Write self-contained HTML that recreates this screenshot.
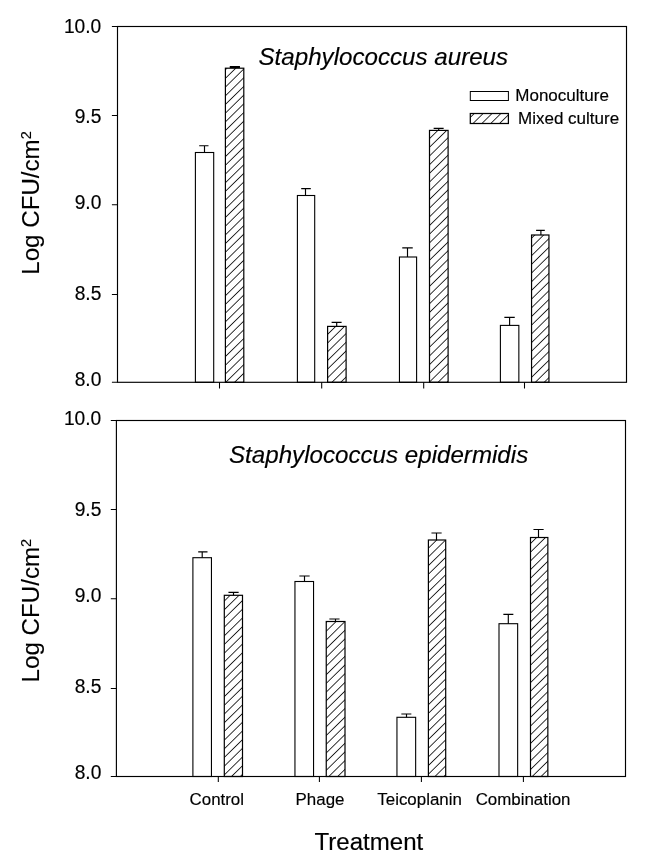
<!DOCTYPE html>
<html lang="en">
<head>
<meta charset="utf-8">
<title>Log CFU/cm2 by Treatment</title>
<style>
html,body{margin:0;padding:0;background:#fff}
body{width:650px;height:867px;overflow:hidden}
svg{display:block}
text{stroke:#000;stroke-width:.16px;stroke-linejoin:round}
text.v{stroke-width:.12px}
</style>
</head>
<body>
<svg width="650" height="867" viewBox="0 0 650 867" font-family='"Liberation Sans", Arial, Helvetica, sans-serif' fill="#000" stroke="none">
<defs><pattern id="hatch" width="6.2" height="6.2" patternUnits="userSpaceOnUse" patternTransform="rotate(-44.5)"><rect width="6.2" height="6.2" fill="#fff"/><line x1="0" y1="3.1" x2="6.2" y2="3.1" stroke="#000" stroke-width="0.8"/></pattern><pattern id="hatchL" width="6.2" height="6.2" patternUnits="userSpaceOnUse" patternTransform="translate(1.6 0) rotate(-44.5)"><rect width="6.2" height="6.2" fill="#fff"/><line x1="0" y1="3.1" x2="6.2" y2="3.1" stroke="#000" stroke-width="0.8"/></pattern></defs>
<rect width="650" height="867" fill="#fff"/>
<g>
<rect x="195.4" y="152.5" width="18.3" height="229.8" fill="#fff" stroke="#000" stroke-width="1.1"/>
<path d="M204.5 152.5V145.7M199.2 145.7H208.5" fill="none" stroke="#000" stroke-width="1.15"/>
<rect x="225.4" y="68.2" width="18.4" height="314.1" fill="url(#hatch)" stroke="#000" stroke-width="1.2"/>
<path d="M234.8 68.2V67M229.75 67H239.95" fill="none" stroke="#000" stroke-width="2.0"/>
<rect x="297.4" y="195.5" width="17.3" height="186.8" fill="#fff" stroke="#000" stroke-width="1.1"/>
<path d="M305.5 195.5V188.6M301.2 188.6H310.8" fill="none" stroke="#000" stroke-width="1.15"/>
<rect x="327.6" y="326.4" width="18.5" height="55.9" fill="url(#hatch)" stroke="#000" stroke-width="1.2"/>
<path d="M336.7 326.4V322.3M331.6 322.3H341.6" fill="none" stroke="#000" stroke-width="1.15"/>
<rect x="399.45" y="257" width="17.15" height="125.3" fill="#fff" stroke="#000" stroke-width="1.1"/>
<path d="M407.5 257V247.8M402.25 247.8H412.75" fill="none" stroke="#000" stroke-width="1.15"/>
<rect x="429.5" y="130.4" width="18.6" height="251.9" fill="url(#hatch)" stroke="#000" stroke-width="1.2"/>
<path d="M438.7 130.4V128.3M433.65 128.3H443.65" fill="none" stroke="#000" stroke-width="1.15"/>
<rect x="500.4" y="325.4" width="18.45" height="56.9" fill="#fff" stroke="#000" stroke-width="1.1"/>
<path d="M509.6 325.4V317.3M504.35 317.3H514.75" fill="none" stroke="#000" stroke-width="1.15"/>
<rect x="531.55" y="235" width="17.4" height="147.3" fill="url(#hatch)" stroke="#000" stroke-width="1.2"/>
<path d="M540.9 235V230.4M536.1 230.4H544.8" fill="none" stroke="#000" stroke-width="1.15"/>
<rect x="117.5" y="26.5" width="509" height="355.8" fill="none" stroke="#000" stroke-width="1.15"/>
<path d="M111.9 26.5H117.5M111.9 115.5H117.5M111.9 204.8H117.5M111.9 294.4H117.5M111.9 382.3H117.5M219.5 382.3V388.5M321.7 382.3V388.5M423.7 382.3V388.5M524.5 382.3V388.5" fill="none" stroke="#000" stroke-width="1.05"/>
<text transform="translate(101.3 32.9) scale(1 1.02)" font-size="19.2" text-anchor="end">10.0</text>
<text transform="translate(101.3 123.35) scale(1 1.02)" font-size="19.2" text-anchor="end">9.5</text>
<text transform="translate(101.3 209.25) scale(1 1.02)" font-size="19.2" text-anchor="end">9.0</text>
<text transform="translate(101.3 300.35) scale(1 1.02)" font-size="19.2" text-anchor="end">8.5</text>
<text transform="translate(101.3 386.35) scale(1 1.02)" font-size="19.2" text-anchor="end">8.0</text>
</g>
<g>
<rect x="192.9" y="557.7" width="18.55" height="218.8" fill="#fff" stroke="#000" stroke-width="1.1"/>
<path d="M202.2 557.7V551.8M198.2 551.8H207.5" fill="none" stroke="#000" stroke-width="1.15"/>
<rect x="224.3" y="595.3" width="18.2" height="181.2" fill="url(#hatch)" stroke="#000" stroke-width="1.2"/>
<path d="M233.5 595.3V592.3M228.45 592.3H238.65" fill="none" stroke="#000" stroke-width="1.15"/>
<rect x="294.95" y="581.5" width="18.6" height="195" fill="#fff" stroke="#000" stroke-width="1.1"/>
<path d="M304.5 581.5V576M299.35 576H309.65" fill="none" stroke="#000" stroke-width="1.15"/>
<rect x="326.25" y="621.5" width="18.75" height="155" fill="url(#hatch)" stroke="#000" stroke-width="1.2"/>
<path d="M335.5 621.5V619M329.35 619H339.55" fill="none" stroke="#000" stroke-width="1.15"/>
<rect x="396.95" y="717.3" width="18.7" height="59.2" fill="#fff" stroke="#000" stroke-width="1.1"/>
<path d="M406.5 717.3V714M401.35 714H411.35" fill="none" stroke="#000" stroke-width="1.15"/>
<rect x="428.4" y="540" width="17.3" height="236.5" fill="url(#hatch)" stroke="#000" stroke-width="1.2"/>
<path d="M436.5 540V533M431.45 533H441.65" fill="none" stroke="#000" stroke-width="1.15"/>
<rect x="499" y="623.7" width="18.65" height="152.8" fill="#fff" stroke="#000" stroke-width="1.1"/>
<path d="M508.3 623.7V614.3M503.35 614.3H513.35" fill="none" stroke="#000" stroke-width="1.15"/>
<rect x="530.5" y="537.5" width="17.35" height="239" fill="url(#hatch)" stroke="#000" stroke-width="1.2"/>
<path d="M538.5 537.5V529.5M533.45 529.5H543.65" fill="none" stroke="#000" stroke-width="1.15"/>
<rect x="116.4" y="420.5" width="509.1" height="356" fill="none" stroke="#000" stroke-width="1.15"/>
<path d="M110.8 420.5H116.4M110.8 509.5H116.4M110.8 598.8H116.4M110.8 688.4H116.4M110.8 776.5H116.4M218.3 776.5V781.9M319.4 776.5V781.9M421.4 776.5V781.9M523.4 776.5V781.9" fill="none" stroke="#000" stroke-width="1.05"/>
<text transform="translate(101.3 425.3) scale(1 1.02)" font-size="19.2" text-anchor="end">10.0</text>
<text transform="translate(101.3 516.35) scale(1 1.02)" font-size="19.2" text-anchor="end">9.5</text>
<text transform="translate(101.3 602.35) scale(1 1.02)" font-size="19.2" text-anchor="end">9.0</text>
<text transform="translate(101.3 693.1) scale(1 1.02)" font-size="19.2" text-anchor="end">8.5</text>
<text transform="translate(101.3 779.1) scale(1 1.02)" font-size="19.2" text-anchor="end">8.0</text>
</g>
<text x="258.5" y="65.1" font-size="24.15" font-style="italic">Staphylococcus aureus</text>
<text x="229" y="463.1" font-size="24.15" font-style="italic">Staphylococcus epidermidis</text>
<rect x="470.3" y="91.5" width="38.1" height="9" fill="#fff" stroke="#000" stroke-width="1"/>
<rect x="470.3" y="113.5" width="38.1" height="10" fill="url(#hatchL)" stroke="#000" stroke-width="1.25"/>
<text x="515.3" y="101.0" font-size="17">Monoculture</text>
<text x="518" y="123.7" font-size="17">Mixed culture</text>
<text class="v" transform="translate(38.7 203.0) rotate(-90)" font-size="24.15" text-anchor="middle">Log CFU/cm<tspan font-size="14.5" dy="-8.1">2</tspan></text>
<text class="v" transform="translate(38.7 610.6) rotate(-90)" font-size="24.15" text-anchor="middle">Log CFU/cm<tspan font-size="14.5" dy="-8.1">2</tspan></text>
<text x="216.8" y="805.1" font-size="16.9" text-anchor="middle">Control</text>
<text x="320.0" y="805.1" font-size="16.9" text-anchor="middle">Phage</text>
<text x="419.6" y="805.1" font-size="16.9" text-anchor="middle">Teicoplanin</text>
<text x="523.1" y="805.1" font-size="16.9" text-anchor="middle">Combination</text>
<text x="368.9" y="850.1" font-size="24.05" text-anchor="middle">Treatment</text>
</svg>
</body>
</html>
